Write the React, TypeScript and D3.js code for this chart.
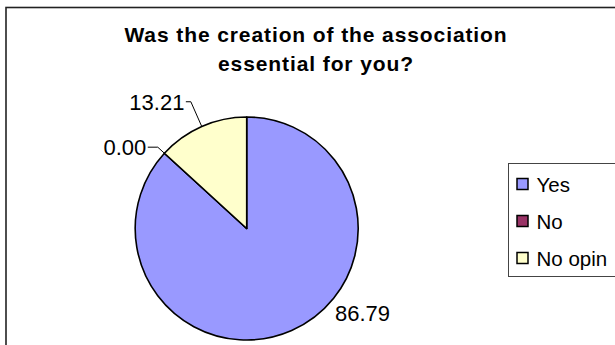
import React from "react";
import * as d3 from "d3";

const categories = ["Yes", "No", "No opin"];
const values = [86.79, 0.0, 13.21];
const colors = ["#9999FF", "#993366", "#FFFFCC"];
const titleLines = ["Was the creation of the association", "essential for you?"];

const W = 615;
const H = 345;
const FONT = "'Liberation Sans', Arial, sans-serif";

export default function App() {
  const cx = 246.7;
  const cy = 228.5;
  const r = 111.5;

  const pie = d3.pie<number>().sort(null).value((d) => d);
  const arcs = pie(values);
  const arcGen = d3.arc<d3.PieArcDatum<number>>().innerRadius(0).outerRadius(r);

  const pt = (ang: number, rad: number) => [Math.sin(ang) * rad, -Math.cos(ang) * rad];

  const labels = arcs.map((a, i) => {
    const mid = (a.startAngle + a.endAngle) / 2;
    const txt = d3.format(".2f")(values[i]);
    if (i === 0) {
      const [x, y] = pt(mid - (30 * Math.PI) / 180, r + 32);
      return { txt, x, y: y + 8, anchor: "middle", leader: null as null | string };
    }
    const len = i === 2 ? 27 : 9;
    const run = i === 2 ? 5 : 10;
    const [px, py] = pt(mid, r);
    const [ox, oy] = pt(mid, r + len);
    const hx = ox - run;
    const path = `M${px},${py}L${ox},${oy}L${hx},${oy}`;
    return { txt, x: hx - 1.5, y: oy + 8, anchor: "end", leader: path };
  });

  const legendX = 508.5;
  const legendY = 163.5;
  const rowY = d3.scalePoint<string>().domain(categories).range([184, 258]);

  return (
    <svg
      width={W}
      height={H}
      style={{ position: "absolute", left: 0, top: 0, background: "#fff" }}
      fontFamily={FONT}
    >
      <rect x={0} y={0} width={W} height={H} fill="#fff" />
      <rect x={6} y={7.5} width={W + 20} height={H + 20} fill="none" stroke="#222" strokeWidth={1.6} />
      {titleLines.map((t, i) => (
        <text
          key={i}
          x={316}
          y={42 + i * 28.5}
          textAnchor="middle"
          fontWeight="bold"
          fontSize={21}
          letterSpacing={0.9}
          fill="#000"
        >
          {t}
        </text>
      ))}
      <g transform={`translate(${cx},${cy})`}>
        {arcs.map((a, i) => (
          <path key={i} d={arcGen(a) || ""} fill={colors[i]} stroke="#000" strokeWidth={1.6} strokeLinejoin="round" />
        ))}
        {labels.map((l, i) =>
          l.leader ? <path key={"l" + i} d={l.leader} fill="none" stroke="#000" strokeWidth={1} /> : null
        )}
        {labels.map((l, i) => (
          <text key={"t" + i} x={l.x} y={l.y} textAnchor={l.anchor} fontSize={22} fill="#000">
            {l.txt}
          </text>
        ))}
      </g>
      <rect x={legendX} y={legendY} width={W} height={113} fill="#fff" stroke="#444" strokeWidth={1} />
      {categories.map((c, i) => {
        const y = rowY(c) as number;
        return (
          <g key={c}>
            <rect x={517} y={y - 5.5} width={11} height={11} fill={colors[i]} stroke="#000" strokeWidth={1.5} />
            <text x={536.5} y={y + 7.5} fontSize={20.5} fill="#000">
              {c}
            </text>
          </g>
        );
      })}
    </svg>
  );
}
